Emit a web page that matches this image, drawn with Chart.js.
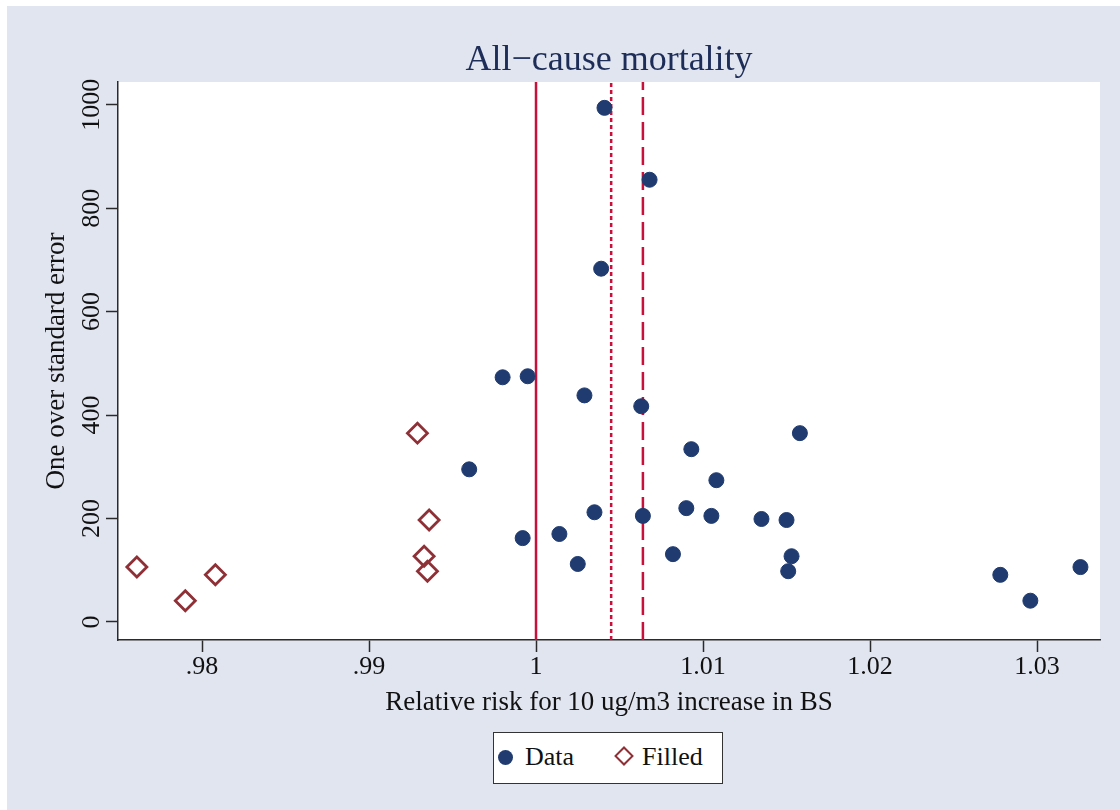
<!DOCTYPE html>
<html>
<head>
<meta charset="utf-8">
<title>All-cause mortality</title>
<script src="https://cdn.jsdelivr.net/npm/chart.js@4.4.1/dist/chart.umd.min.js"></script>
<style>
  html, body { margin: 0; padding: 0; background: #fff; }
  #wrap { position: absolute; left: 7px; top: 6px; width: 1113px; height: 804px; background: #e1e5f0; }
  #legend {
    position: absolute; left: 486px; top: 726px; width: 230px; height: 52px;
    box-sizing: border-box; background: #fff; border: 1.5px solid #333;
    font-family: 'Liberation Serif', 'Times New Roman', serif; font-size: 26px; color: #111;
  }
  #legend span { position: absolute; top: 9px; line-height: 30px; }
  .dot { position: absolute; left: 4px; top: 17px; width: 15px; height: 15px; border-radius: 50%; background: #1f3b70; }
  .diamond { position: absolute; left: 123px; top: 16px; width: 10px; height: 10px; border: 2.5px solid #8f3037; transform: rotate(45deg); }
</style>
</head>
<body>
<div id="wrap">
  <canvas id="funnel"></canvas>
  <div id="legend">
    <div class="dot"></div><span style="left:31px">Data</span>
    <div class="diamond"></div><span style="left:148px">Filled</span>
  </div>
</div>
<script>
// values
const xTickValues = [0.98, 0.99, 1, 1.01, 1.02, 1.03];
const xTickLabels = ['.98', '.99', '1', '1.01', '1.02', '1.03'];
const yTickValues = [0, 200, 400, 600, 800, 1000];

// observed studies: relative risk and 1/SE
const dataRR = [1.0041, 1.0068, 1.0039, 0.9980, 0.9995, 1.0029, 1.0063, 1.0158, 1.0093, 1.0108,
  0.9960, 1.0035, 1.0064, 1.0090, 1.0105, 1.0135, 1.0150, 1.0014, 0.9992, 1.0025,
  1.0082, 1.0153, 1.0151, 1.0278, 1.0296, 1.0326];
const dataPrecision = [994, 855, 683, 473, 475, 438, 417, 365, 334, 274,
  295, 212, 205, 220, 205, 199, 197, 170, 162, 112,
  131, 127, 98, 91, 41, 106];

// trim-and-fill imputed studies
const filledRR = [0.9761, 0.9790, 0.9808, 0.9929, 0.9936, 0.9933, 0.9935];
const filledPrecision = [106, 41, 91, 365, 197, 127, 98];

// reference lines
const nullEffect = 1;
const filledEstimate = 1.0045;
const pooledEstimate = 1.0064;

const xMin = 0.97497, xMax = 1.03377;
const yMin = -35, yMax = 1044;

const FONT = "'Liberation Serif', 'Times New Roman', serif";
const RED = '#c8103a';

const toPoints = (xs, ys) => xs.map((x, i) => ({ x: x, y: ys[i] }));
const vline = x => [{ x: x, y: yMin }, { x: x, y: yMax }];

const plotBackground = {
  id: 'plotBackground',
  beforeDraw(chart) {
    const { ctx, chartArea: a } = chart;
    ctx.save();
    ctx.fillStyle = '#fff';
    ctx.fillRect(a.left, a.top, a.right - a.left, a.bottom - a.top);
    ctx.restore();
  }
};

// stata-like title and rotated y tick labels
const stataText = {
  id: 'stataText',
  afterDraw(chart) {
    const { ctx, chartArea: a } = chart;
    const y = chart.scales.y;
    ctx.save();
    ctx.fillStyle = '#1e2d58';
    ctx.font = '36px ' + FONT;
    ctx.textAlign = 'center';
    ctx.textBaseline = 'middle';
    ctx.fillText('All\u2212cause mortality', (a.left + a.right) / 2, 55);

    ctx.fillStyle = '#111';
    ctx.font = '26px ' + FONT;
    y.ticks.forEach(t => {
      ctx.save();
      ctx.translate(y.right - 26, y.getPixelForValue(t.value));
      ctx.rotate(-Math.PI / 2);
      ctx.fillText(String(t.value), 0, 0);
      ctx.restore();
    });
    ctx.restore();
  }
};

const axisColor = '#2a2a2a';

new Chart(document.getElementById('funnel'), {
  type: 'scatter',
  data: {
    datasets: [
      {
        label: 'Data',
        data: toPoints(dataRR, dataPrecision),
        pointStyle: 'circle',
        pointRadius: 7.5,
        pointBackgroundColor: '#1f3b70',
        pointBorderColor: '#1f3b70',
        pointBorderWidth: 1,
        order: 1
      },
      {
        label: 'Filled',
        data: toPoints(filledRR, filledPrecision),
        pointStyle: 'rectRot',
        pointRadius: 10,
        pointBackgroundColor: 'rgba(0,0,0,0)',
        pointBorderColor: '#8f3037',
        pointBorderWidth: 2.8,
        order: 2
      },
      {
        label: 'null',
        data: vline(nullEffect),
        showLine: true, pointRadius: 0,
        borderColor: RED, borderWidth: 2.5,
        order: 3
      },
      {
        label: 'filled estimate',
        data: vline(filledEstimate),
        showLine: true, pointRadius: 0,
        borderColor: RED, borderWidth: 2.5, borderDash: [4, 3],
        order: 3
      },
      {
        label: 'pooled estimate',
        data: vline(pooledEstimate),
        showLine: true, pointRadius: 0,
        borderColor: RED, borderWidth: 2.5, borderDash: [18, 7],
        order: 3
      }
    ]
  },
  options: {
    responsive: true,
    maintainAspectRatio: false,
    animation: false,
    events: [],
    layout: { padding: { top: 76, left: 31, right: 20, bottom: 80 } },
    plugins: {
      legend: { display: false },
      title: { display: false },
      tooltip: { enabled: false }
    },
    scales: {
      x: {
        type: 'linear',
        position: 'bottom',
        min: xMin,
        max: xMax,
        afterBuildTicks: s => { s.ticks = xTickValues.map(v => ({ value: v })); },
        afterFit: s => { s.height = 90; },
        ticks: {
          callback: v => {
            const i = xTickValues.indexOf(v);
            return i >= 0 ? xTickLabels[i] : '';
          },
          font: { family: FONT, size: 26 },
          color: '#111',
          padding: 0,
          maxRotation: 0,
          autoSkip: false
        },
        grid: { display: true, drawOnChartArea: false, drawTicks: true, tickLength: 12, tickColor: axisColor, tickWidth: 1.5 },
        border: { display: true, color: axisColor, width: 1.5 },
        title: {
          display: true,
          text: 'Relative risk for 10 ug/m3 increase in BS',
          font: { family: FONT, size: 27 },
          color: '#111',
          padding: { top: 0, bottom: 11 }
        }
      },
      y: {
        type: 'linear',
        position: 'left',
        min: yMin,
        max: yMax,
        afterBuildTicks: s => { s.ticks = yTickValues.map(v => ({ value: v })); },
        afterFit: s => { s.width = 80; },
        ticks: { color: 'rgba(0,0,0,0)', font: { family: FONT, size: 26 } },
        grid: { display: true, drawOnChartArea: false, drawTicks: true, tickLength: 12, tickColor: axisColor, tickWidth: 1.5 },
        border: { display: true, color: axisColor, width: 1.5 },
        title: {
          display: true,
          text: 'One over standard error',
          font: { family: FONT, size: 27 },
          color: '#111',
          padding: { top: 3, bottom: 0 }
        }
      }
    }
  },
  plugins: [plotBackground, stataText]
});
</script>
</body>
</html>
